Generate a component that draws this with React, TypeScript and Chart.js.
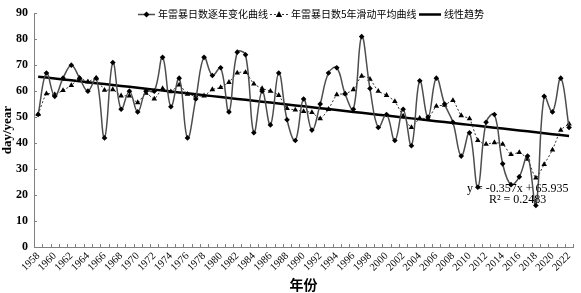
import React, { useEffect, useRef } from "react";
import { Chart, registerables } from "chart.js";

Chart.register(...registerables);

const years = [
  "1958", "1959", "1960", "1961", "1962", "1963", "1964", "1965", "1966", "1967",
  "1968", "1969", "1970", "1971", "1972", "1973", "1974", "1975", "1976", "1977",
  "1978", "1979", "1980", "1981", "1982", "1983", "1984", "1985", "1986", "1987",
  "1988", "1989", "1990", "1991", "1992", "1993", "1994", "1995", "1996", "1997",
  "1998", "1999", "2000", "2001", "2002", "2003", "2004", "2005", "2006", "2007",
  "2008", "2009", "2010", "2011", "2012", "2013", "2014", "2015", "2016", "2017",
  "2018", "2019", "2020", "2021", "2022",
];

const annualDays = [
  51, 67, 58, 65, 70, 65, 60, 65, 42, 71,
  53, 60, 52, 60, 60, 73, 54, 65, 42, 57,
  73, 66, 69, 52, 75, 74, 44, 60, 47, 67,
  49, 41, 57, 45, 55, 67, 69, 59, 53, 81,
  61, 46, 51, 41, 53, 39, 64, 50, 65, 55,
  48, 35, 44, 23, 48, 51, 32, 24, 27, 35,
  16, 58, 52, 65, 46,
];

const movingAvg5 = [
  51.0, 59.0, 58.7, 60.3, 62.2, 65.0, 63.6, 65.0, 60.4, 60.6,
  58.2, 58.2, 55.6, 59.2, 57.0, 61.0, 59.8, 62.4, 58.8, 58.2,
  58.2, 60.6, 61.4, 63.4, 67.0, 67.2, 62.8, 61.0, 60.0, 58.4,
  53.4, 52.8, 52.2, 51.8, 49.4, 53.0, 58.6, 59.0, 60.6, 65.8,
  64.6, 60.0, 58.4, 56.0, 50.4, 46.0, 49.6, 49.4, 54.2, 54.6,
  56.4, 50.6, 49.4, 41.0, 39.6, 40.2, 39.6, 35.6, 36.4, 33.8,
  26.6, 31.8, 37.4, 45.0, 47.4,
];

const trendSlope = -0.357;
const trendIntercept = 65.935;
const equationText = "y = -0.357x + 65.935";
const r2Text = "R² = 0.2483";

const legendLabels = ["年雷暴日数逐年变化曲线", "年雷暴日数5年滑动平均曲线", "线性趋势"];
const yTitle = "day/year";
const xTitle = "年份";

const CJK = "'Noto Sans CJK SC', sans-serif";
const SERIF = "'Liberation Serif', 'Times New Roman', serif";

function drawDiamond(ctx: CanvasRenderingContext2D, x: number, y: number, r: number) {
  ctx.beginPath();
  ctx.moveTo(x, y - r);
  ctx.lineTo(x + r, y);
  ctx.lineTo(x, y + r);
  ctx.lineTo(x - r, y);
  ctx.closePath();
  ctx.fill();
}

function drawTriangle(ctx: CanvasRenderingContext2D, x: number, y: number, r: number) {
  ctx.beginPath();
  ctx.moveTo(x, y - r);
  ctx.lineTo(x + r * 0.9, y + r * 0.7);
  ctx.lineTo(x - r * 0.9, y + r * 0.7);
  ctx.closePath();
  ctx.fill();
}

const overlayPlugin = {
  id: "overlay",
  afterDraw(chart: any) {
    const ctx: CanvasRenderingContext2D = chart.ctx;
    const area = chart.chartArea;
    const xs = chart.scales.x;
    const ys = chart.scales.y;
    ctx.save();

    // inside tick marks
    ctx.strokeStyle = "#808080";
    ctx.lineWidth = 1;
    const n = years.length;
    const step = (area.right - area.left) / n;
    for (let i = 0; i <= n; i++) {
      const x = Math.round(area.left + i * step) + 0.5;
      ctx.beginPath();
      ctx.moveTo(x, area.bottom);
      ctx.lineTo(x, area.bottom - 3);
      ctx.stroke();
    }
    ys.ticks.forEach((t: any) => {
      const y = Math.round(ys.getPixelForValue(t.value)) + 0.5;
      ctx.beginPath();
      ctx.moveTo(area.left, y);
      ctx.lineTo(area.left + 3, y);
      ctx.stroke();
    });

    // legend
    const ly = 14.5;
    ctx.textBaseline = "middle";
    ctx.textAlign = "left";
    ctx.font = `10px ${CJK}`;
    ctx.fillStyle = "#000";
    // item 1
    ctx.strokeStyle = "#4d4d4d";
    ctx.lineWidth = 1.5;
    ctx.beginPath();
    ctx.moveTo(138, ly);
    ctx.lineTo(155, ly);
    ctx.stroke();
    ctx.fillStyle = "#000";
    drawDiamond(ctx, 146.5, ly, 3);
    ctx.fillText(legendLabels[0], 158, ly);
    // item 2
    ctx.strokeStyle = "#333";
    ctx.lineWidth = 1;
    ctx.setLineDash([2, 2]);
    ctx.beginPath();
    ctx.moveTo(270, ly);
    ctx.lineTo(288, ly);
    ctx.stroke();
    ctx.setLineDash([]);
    drawTriangle(ctx, 279, ly, 3.5);
    ctx.fillText(legendLabels[1], 291, ly);
    // item 3
    ctx.strokeStyle = "#000";
    ctx.lineWidth = 2.5;
    ctx.beginPath();
    ctx.moveTo(419, ly);
    ctx.lineTo(441, ly);
    ctx.stroke();
    ctx.fillText(legendLabels[2], 444, ly);

    // equation
    ctx.font = `12px ${SERIF}`;
    ctx.fillStyle = "#000";
    ctx.fillText(equationText, 467, 189);
    ctx.fillText(r2Text, 489, 200);

    ctx.restore();
  },
};

export default function App() {
  const canvasRef = useRef<HTMLCanvasElement | null>(null);

  useEffect(() => {
    document.body.style.margin = "0";
    const canvas = canvasRef.current;
    if (!canvas) return;
    const trend = annualDays.map((_, i) => trendSlope * (i + 1) + trendIntercept);

    const chart = new Chart(canvas, {
      type: "line",
      data: {
        labels: years,
        datasets: [
          {
            label: legendLabels[2],
            data: trend,
            borderColor: "#000",
            borderWidth: 2.5,
            pointRadius: 0,
            tension: 0,
            order: 3,
          },
          {
            label: legendLabels[1],
            data: movingAvg5,
            borderColor: "#333",
            borderWidth: 1,
            borderDash: [2, 2],
            pointStyle: "triangle",
            pointRadius: 3.2,
            pointBackgroundColor: "#000",
            pointBorderColor: "#000",
            pointBorderWidth: 0,
            tension: 0.2,
            order: 2,
          },
          {
            label: legendLabels[0],
            data: annualDays,
            borderColor: "#4d4d4d",
            borderWidth: 1.5,
            pointStyle: "rectRot",
            pointRadius: 2.8,
            pointBackgroundColor: "#000",
            pointBorderColor: "#000",
            pointBorderWidth: 0,
            tension: 0.4,
            order: 1,
          },
        ],
      },
      options: {
        animation: false,
        responsive: false,
        maintainAspectRatio: false,
        layout: { padding: { top: 5, right: 1, left: 0, bottom: 0 } },
        plugins: {
          legend: { display: false },
          tooltip: { enabled: false },
        },
        scales: {
          x: {
            type: "category",
            offset: true,
            grid: { display: false, drawTicks: false },
            border: { display: true, color: "#808080", width: 1 },
            ticks: {
              autoSkip: false,
              maxRotation: 45,
              minRotation: 45,
              padding: 3,
              color: "#000",
              font: { family: SERIF, size: 10.5 },
              callback: function (this: any, _v: any, i: number) {
                return i % 2 === 0 ? years[i] : "";
              },
            },
            title: {
              display: true,
              text: xTitle,
              color: "#000",
              font: { family: CJK, size: 14, weight: "bold" },
              padding: { top: 0, bottom: 0 },
            },
            afterFit: (scale: any) => {
              scale.height = 46;
            },
          },
          y: {
            min: 0,
            max: 90,
            grid: { display: false, drawTicks: false },
            border: { display: true, color: "#808080", width: 1 },
            ticks: {
              stepSize: 10,
              padding: 6,
              color: "#000",
              font: { family: SERIF, size: 12, weight: "bold" },
            },
            title: {
              display: true,
              text: yTitle,
              color: "#000",
              font: { family: SERIF, size: 13, weight: "bold" },
              padding: { top: 0, bottom: 0 },
            },
            afterFit: (scale: any) => {
              scale.width = 34;
            },
          },
        },
      },
      plugins: [overlayPlugin],
    });

    return () => chart.destroy();
  }, []);

  return (
    <div style={{ width: 581, height: 293, background: "#fff" }}>
      <canvas ref={canvasRef} width={581} height={293} style={{ display: "block" }} />
    </div>
  );
}
